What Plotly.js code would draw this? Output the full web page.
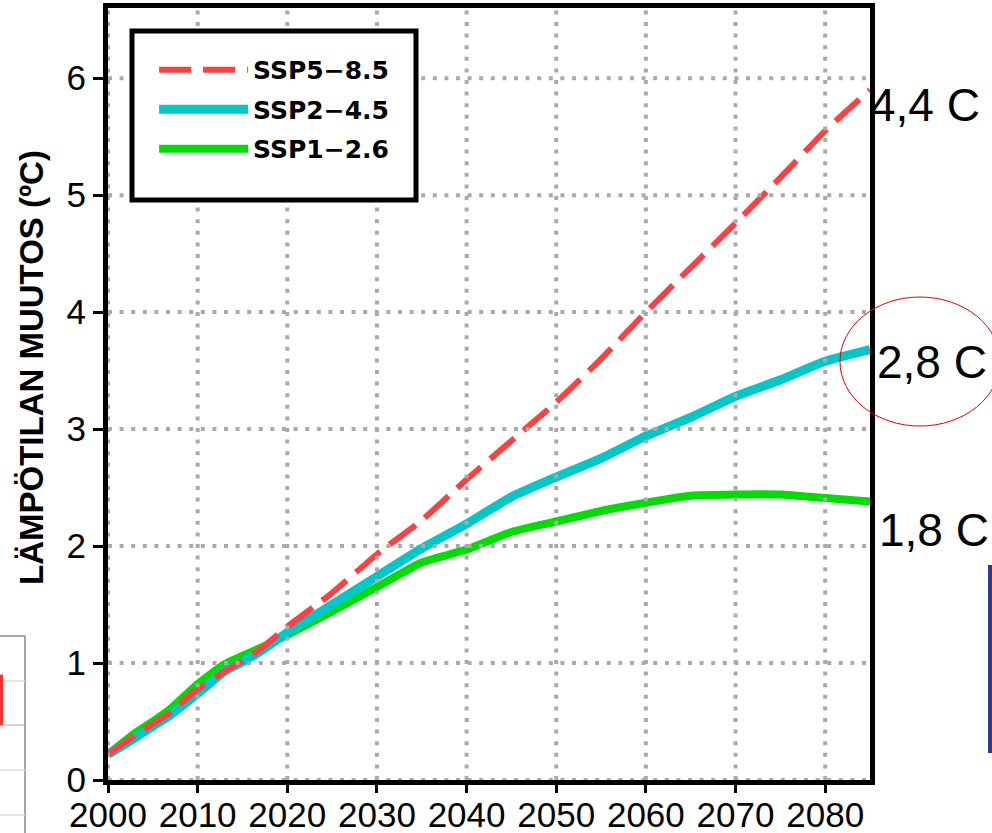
<!DOCTYPE html>
<html>
<head>
<meta charset="utf-8">
<script src="https://cdn.plot.ly/plotly-3.0.1.min.js"></script>
<style>
  html, body { margin: 0; padding: 0; background: #ffffff; }
  #chart { width: 992px; height: 833px; }
</style>
</head>
<body>
<div id="chart"></div>
<script>
// ---- data ----
const years = [2000, 2003, 2005, 2007, 2010, 2013, 2015, 2017, 2020, 2025, 2030, 2035,
               2040, 2045, 2050, 2055, 2060, 2065, 2070, 2075, 2080, 2085];
const ssp585 = [0.22, 0.38, 0.48, 0.58, 0.78, 0.93, 1.02, 1.12, 1.31, 1.60, 1.93, 2.22,
                2.57, 2.90, 3.23, 3.60, 4.00, 4.38, 4.76, 5.15, 5.55, 5.90];
const ssp245 = [0.22, 0.36, 0.46, 0.56, 0.74, 0.93, 1.01, 1.10, 1.26, 1.50, 1.74, 1.98,
                2.19, 2.42, 2.59, 2.75, 2.94, 3.10, 3.28, 3.42, 3.58, 3.68];
const ssp126 = [0.22, 0.40, 0.50, 0.61, 0.82, 0.99, 1.06, 1.13, 1.24, 1.44, 1.65, 1.86,
                1.97, 2.12, 2.21, 2.30, 2.37, 2.43, 2.44, 2.44, 2.41, 2.38];
const seriesNames = ["SSP5\u22128.5", "SSP2\u22124.5", "SSP1\u22122.6"];
const xTicks = [2000, 2010, 2020, 2030, 2040, 2050, 2060, 2070, 2080];
const yTicks = [0, 1, 2, 3, 4, 5, 6];
const endLabels = ["4,4 C", "2,8 C", "1,8 C"];
const yTitle = "L\u00C4MP\u00D6TILAN MUUTOS (\u00BAC)";

const FONT = "Liberation Sans, Arial, Helvetica, sans-serif";

const traces = [
  { x: years, y: ssp126, name: seriesNames[2], type: "scatter", mode: "lines", legendgroup: "c",
    line: { color: "#00dd00", width: 8, shape: "spline", smoothing: 0.5 }, legendrank: 3 },
  { x: years, y: ssp245, name: seriesNames[1], type: "scatter", mode: "lines", legendgroup: "b",
    line: { color: "#00c8c8", width: 9, shape: "spline", smoothing: 0.5 }, legendrank: 2 },
  { x: years, y: ssp585, name: seriesNames[0], type: "scatter", mode: "lines", legendgroup: "a",
    line: { color: "#ff4040", width: 6, dash: "32px,12px", shape: "spline", smoothing: 0.5 }, legendrank: 1 }
];

// dotted grid drawn above the data (as in the reference)
const gridStyle = { color: "#aaaaaa", width: 4, dash: "4px,7.6px" };
const shapes = [];
xTicks.forEach(v => shapes.push({ type: "line", layer: "above", xref: "x", yref: "paper",
  x0: v, x1: v, y0: 0, y1: 1, line: gridStyle }));
yTicks.forEach(v => shapes.push({ type: "line", layer: "above", xref: "paper", yref: "y",
  x0: 0, x1: 1, y0: v, y1: v, line: gridStyle }));

// legend frame
shapes.push({ type: "rect", layer: "above", xref: "paper", yref: "paper",
  x0: 0.0315, x1: 0.4042, y0: 0.7513, y1: 0.9702,
  line: { color: "#000000", width: 5 }, fillcolor: "#ffffff" });

// highlight ellipse around 2,8 C
shapes.push({ type: "circle", layer: "above", xref: "paper", yref: "paper",
  x0: 0.9606, x1: 1.1706, y0: 0.4585, y1: 0.6256,
  line: { color: "#e00000", width: 1 } });

// slide artefacts at the edges
shapes.push({ type: "rect", layer: "above", xref: "paper", yref: "paper",
  x0: 1.1549, x1: 1.175, y0: 0.035, y1: 0.2785, line: { width: 0 }, fillcolor: "#333399" });
shapes.push({ type: "line", layer: "above", xref: "paper", yref: "paper",
  x0: -0.1089, x1: -0.1089, y0: -0.07, y1: 0.1865, line: { color: "#888888", width: 1.5 } });
shapes.push({ type: "line", layer: "above", xref: "paper", yref: "paper",
  x0: -0.15, x1: -0.1089, y0: 0.1865, y1: 0.1865, line: { color: "#888888", width: 1.5 } });
[0.1282, 0.013, -0.0453].forEach(v => shapes.push({ type: "line", layer: "above",
  xref: "paper", yref: "paper", x0: -0.15, x1: -0.1089, y0: v, y1: v,
  line: { color: "#dddddd", width: 1.5 } }));
shapes.push({ type: "line", layer: "above", xref: "paper", yref: "paper",
  x0: -0.15, x1: -0.1089, y0: 0.0712, y1: 0.0712, line: { color: "#aaaaaa", width: 1 } });
shapes.push({ type: "rect", layer: "above", xref: "paper", yref: "paper",
  x0: -0.15, x1: -0.1378, y0: 0.0712, y1: 0.1365, line: { width: 0 }, fillcolor: "#ee3333" });

const annotations = [
  { text: endLabels[0], xref: "paper", yref: "paper", x: 0.9974, y: 0.8744,
    xanchor: "left", yanchor: "middle", showarrow: false,
    font: { family: FONT, size: 46, color: "#000000" } },
  { text: endLabels[1], xref: "paper", yref: "paper", x: 1.0066, y: 0.5415,
    xanchor: "left", yanchor: "middle", showarrow: false,
    font: { family: FONT, size: 46, color: "#000000" } },
  { text: endLabels[2], xref: "paper", yref: "paper", x: 1.0092, y: 0.3238,
    xanchor: "left", yanchor: "middle", showarrow: false,
    font: { family: FONT, size: 46, color: "#000000" } },
  { text: "<b>" + yTitle + "</b>", xref: "paper", yref: "paper", x: -0.0997, y: 0.5337,
    xanchor: "center", yanchor: "middle", showarrow: false, textangle: -90,
    font: { family: FONT, size: 33, color: "#000000" } }
];

const layout = {
  width: 992, height: 833,
  margin: { l: 108, r: 122, t: 8, b: 53 },
  paper_bgcolor: "#ffffff", plot_bgcolor: "#ffffff",
  showlegend: true,
  legend: { x: 0.0605, y: 0.9495, xanchor: "left", yanchor: "top",
    bgcolor: "rgba(0,0,0,0)", borderwidth: 0, traceorder: "grouped",
    tracegroupgap: 4, itemwidth: 89,
    font: { family: "DejaVu Sans, " + FONT, size: 25, color: "#000000", weight: "bold" } },
  xaxis: {
    range: [2000, 2085], tickvals: xTicks, ticktext: xTicks.map(String),
    showgrid: false, zeroline: false,
    showline: true, linecolor: "#000000", linewidth: 5, mirror: true,
    ticks: "outside", ticklen: 8, tickwidth: 3, tickcolor: "#000000",
    ticklabelstandoff: -8,
    tickfont: { family: FONT, size: 35, color: "#000000" }
  },
  yaxis: {
    range: [0, 6.6], tickvals: yTicks, ticktext: yTicks.map(String),
    showgrid: false, zeroline: false,
    showline: true, linecolor: "#000000", linewidth: 5, mirror: true,
    ticks: "outside", ticklen: 10, tickwidth: 3, tickcolor: "#000000",
    tickfont: { family: FONT, size: 35, color: "#000000" }
  },
  shapes: shapes,
  annotations: annotations
};

Plotly.newPlot("chart", traces, layout, { displayModeBar: false, staticPlot: true });
</script>
</body>
</html>
